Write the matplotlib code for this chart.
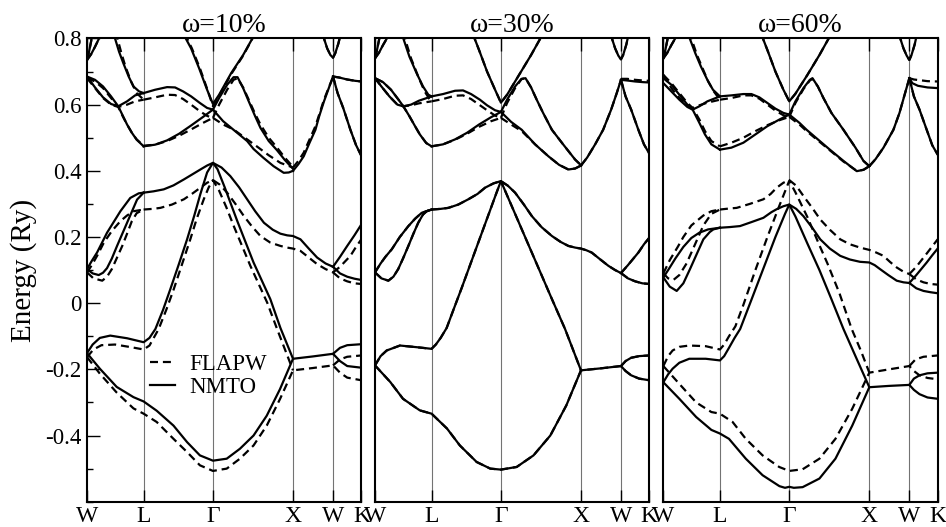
import matplotlib
matplotlib.use('Agg')
import matplotlib.pyplot as plt
from matplotlib.lines import Line2D
from matplotlib.ticker import MultipleLocator, FixedLocator

plt.rcParams['font.family'] = ['Liberation Serif', 'DejaVu Serif']

# high-symmetry points along the fcc path (path length, 2pi/a units)
kpos = [0.0, 0.707, 1.573, 2.573, 3.073, 3.427]
klabels = ['W', 'L', 'Γ', 'X', 'W', 'K']
titles = ['ω=10%', 'ω=30%', 'ω=60%']
yticks = [-0.4, -0.2, 0.0, 0.2, 0.4, 0.6, 0.8]
ylabels = ['-0.4', '-0.2', '0', '0.2', '0.4', '0.6', '0.8']

# ---------------- omega = 10% ----------------
# bands where NMTO and FLAPW lie on top of each other
both_10 = [
    [(0, 0.735), (0.05, 0.752), (0.1, 0.775), (0.15, 0.8), (0.18, 0.82)],
    [(0, 0.735), (0.025, 0.76), (0.05, 0.79), (0.07, 0.82)],
    [(2.94, 0.815), (3.0, 0.77), (3.04, 0.75), (3.073, 0.742), (3.1, 0.755), (3.14, 0.785), (3.17, 0.815)],
    [(3.073, 0.685), (3.15, 0.682), (3.25, 0.676), (3.35, 0.672), (3.427, 0.67)],
    [(3.073, 0.685), (3.13, 0.635), (3.2, 0.59), (3.29, 0.524), (3.36, 0.478), (3.427, 0.445)],
]
nmto_10 = [
    [(0.33, 0.82), (0.35, 0.8), (0.4, 0.76), (0.454, 0.725), (0.52, 0.685), (0.58, 0.655), (0.65, 0.64), (0.707, 0.635)],
    [(0, 0.685), (0.1, 0.675), (0.2, 0.655), (0.3, 0.625), (0.39, 0.595), (0.45, 0.565), (0.5, 0.54), (0.56, 0.515), (0.62, 0.494), (0.707, 0.474)],
    [(0, 0.685), (0.1, 0.652), (0.2, 0.622), (0.3, 0.602), (0.39, 0.595), (0.5, 0.61), (0.6, 0.628), (0.707, 0.635)],
    [(0.707, 0.635), (0.85, 0.645), (1.0, 0.653), (1.1, 0.652), (1.2, 0.64), (1.3, 0.625), (1.41, 0.605), (1.5, 0.59), (1.573, 0.585)],
    [(0.707, 0.474), (0.85, 0.479), (1.0, 0.492), (1.15, 0.512), (1.3, 0.537), (1.45, 0.563), (1.573, 0.585)],
    [(1.2, 0.815), (1.3, 0.77), (1.4, 0.71), (1.5, 0.645), (1.573, 0.602), (1.65, 0.63), (1.8, 0.695), (1.95, 0.75), (2.1, 0.815)],
    [(1.573, 0.585), (1.65, 0.62), (1.75, 0.66), (1.83, 0.683), (1.88, 0.683), (1.95, 0.65), (2.02, 0.61), (2.1, 0.565),
     (2.166, 0.53), (2.27, 0.49), (2.374, 0.462), (2.47, 0.433), (2.573, 0.406)],
    [(1.573, 0.585), (1.7, 0.55), (1.83, 0.524), (2.0, 0.49), (2.08, 0.466), (2.2, 0.44), (2.33, 0.414), (2.457, 0.394), (2.52, 0.395), (2.573, 0.40)],
    [(2.573, 0.40), (2.64, 0.42), (2.707, 0.444), (2.78, 0.485), (2.853, 0.524), (2.9, 0.565), (2.96, 0.61), (3.02, 0.65), (3.073, 0.685)],
    [(0, -0.151), (0.16, -0.198), (0.37, -0.253), (0.58, -0.284), (0.707, -0.297), (0.87, -0.325), (1.08, -0.37), (1.25, -0.42),
     (1.41, -0.46), (1.573, -0.476), (1.745, -0.47), (1.91, -0.44), (2.08, -0.40), (2.245, -0.34), (2.41, -0.26), (2.573, -0.168),
     (2.82, -0.161), (3.073, -0.153), (3.16, -0.175), (3.25, -0.19), (3.427, -0.195)],
    [(3.073, -0.153), (3.16, -0.135), (3.25, -0.127), (3.427, -0.124)],
    [(0, -0.151), (0.07, -0.125), (0.16, -0.105), (0.29, -0.098), (0.5, -0.106), (0.707, -0.118), (0.78, -0.105), (0.854, -0.078),
     (0.95, -0.02), (1.04, 0.042), (1.15, 0.12), (1.25, 0.193), (1.34, 0.265), (1.416, 0.33), (1.5, 0.395), (1.573, 0.424),
     (1.63, 0.405), (1.72, 0.35), (1.874, 0.25), (2.08, 0.123), (2.29, 0.012), (2.416, -0.075), (2.573, -0.168)],
    [(0, 0.103), (0.06, 0.128), (0.125, 0.153), (0.25, 0.213), (0.417, 0.278), (0.54, 0.318), (0.646, 0.332), (0.707, 0.334)],
    [(0, 0.103), (0.07, 0.09), (0.146, 0.085), (0.2, 0.092), (0.25, 0.106), (0.31, 0.135), (0.375, 0.173), (0.5, 0.243), (0.625, 0.313), (0.707, 0.334)],
    [(0.707, 0.334), (0.83, 0.338), (0.958, 0.344), (1.08, 0.356), (1.21, 0.374), (1.32, 0.39), (1.416, 0.404), (1.5, 0.416), (1.573, 0.424),
     (1.68, 0.41), (1.79, 0.384), (1.9, 0.35), (2.0, 0.314), (2.1, 0.278), (2.21, 0.243), (2.32, 0.222), (2.416, 0.21), (2.5, 0.205),
     (2.573, 0.203), (2.666, 0.193), (2.77, 0.165), (2.874, 0.138), (2.98, 0.12), (3.073, 0.11)],
    [(3.073, 0.11), (3.16, 0.14), (3.25, 0.173), (3.34, 0.205), (3.427, 0.238)],
    [(3.073, 0.11), (3.16, 0.09), (3.25, 0.08), (3.34, 0.074), (3.427, 0.07)],
]
flapw_10 = [
    [(0.36, 0.82), (0.38, 0.8), (0.43, 0.755), (0.48, 0.715), (0.55, 0.67), (0.62, 0.635), (0.707, 0.615)],
    [(0, 0.68), (0.1, 0.67), (0.2, 0.65), (0.3, 0.62), (0.39, 0.593), (0.45, 0.563), (0.5, 0.54), (0.56, 0.515), (0.62, 0.495), (0.707, 0.476)],
    [(0, 0.68), (0.1, 0.65), (0.2, 0.62), (0.3, 0.6), (0.39, 0.593), (0.5, 0.6), (0.6, 0.61), (0.707, 0.615)],
    [(0.707, 0.615), (0.85, 0.622), (1.0, 0.63), (1.1, 0.629), (1.2, 0.617), (1.3, 0.6), (1.41, 0.58), (1.5, 0.566), (1.573, 0.56)],
    [(0.707, 0.476), (0.85, 0.479), (1.0, 0.49), (1.15, 0.506), (1.3, 0.525), (1.45, 0.545), (1.573, 0.56)],
    [(1.22, 0.815), (1.31, 0.77), (1.41, 0.71), (1.5, 0.648), (1.573, 0.595), (1.65, 0.627), (1.8, 0.692), (1.95, 0.748), (2.1, 0.815)],
    [(1.573, 0.56), (1.65, 0.6), (1.75, 0.645), (1.83, 0.675), (1.88, 0.68), (1.95, 0.652), (2.02, 0.615), (2.1, 0.572),
     (2.166, 0.54), (2.27, 0.5), (2.374, 0.47), (2.47, 0.44), (2.573, 0.412)],
    [(1.573, 0.56), (1.7, 0.54), (1.83, 0.525), (2.0, 0.495), (2.12, 0.474), (2.27, 0.447), (2.416, 0.424), (2.573, 0.41)],
    [(2.573, 0.41), (2.64, 0.43), (2.707, 0.455), (2.78, 0.495), (2.853, 0.535), (2.9, 0.57), (2.96, 0.615), (3.02, 0.652), (3.073, 0.683)],
    [(0, -0.163), (0.16, -0.213), (0.37, -0.27), (0.58, -0.318), (0.707, -0.334), (0.87, -0.359), (1.08, -0.41), (1.25, -0.45),
     (1.41, -0.49), (1.573, -0.507), (1.745, -0.5), (1.91, -0.47), (2.08, -0.43), (2.245, -0.37), (2.41, -0.29), (2.573, -0.203),
     (2.82, -0.196), (3.073, -0.188), (3.16, -0.21), (3.25, -0.225), (3.427, -0.233)],
    [(3.073, -0.188), (3.16, -0.17), (3.25, -0.162), (3.427, -0.158)],
    [(0, -0.163), (0.08, -0.14), (0.18, -0.127), (0.35, -0.125), (0.55, -0.133), (0.707, -0.14), (0.78, -0.128), (0.895, -0.078),
     (0.99, -0.02), (1.083, 0.042), (1.19, 0.12), (1.29, 0.193), (1.37, 0.255), (1.458, 0.314), (1.52, 0.35), (1.573, 0.372),
     (1.65, 0.34), (1.74, 0.29), (1.833, 0.233), (2.04, 0.113), (2.25, 0.002), (2.374, -0.078), (2.573, -0.203)],
    [(0, 0.093), (0.06, 0.115), (0.13, 0.145), (0.21, 0.183), (0.31, 0.218), (0.417, 0.248), (0.5, 0.265), (0.583, 0.278), (0.707, 0.283)],
    [(0, 0.093), (0.08, 0.075), (0.19, 0.068), (0.25, 0.08), (0.31, 0.103), (0.375, 0.138), (0.44, 0.173), (0.5, 0.21), (0.56, 0.248), (0.62, 0.272), (0.707, 0.283)],
    [(0.707, 0.283), (0.82, 0.285), (0.916, 0.288), (1.06, 0.298), (1.21, 0.314), (1.32, 0.332), (1.416, 0.349), (1.5, 0.364), (1.573, 0.372),
     (1.66, 0.358), (1.75, 0.334), (1.86, 0.298), (1.96, 0.263), (2.06, 0.232), (2.166, 0.203), (2.29, 0.183), (2.416, 0.173), (2.5, 0.168),
     (2.573, 0.165), (2.666, 0.158), (2.77, 0.138), (2.874, 0.118), (2.98, 0.103), (3.073, 0.093)],
    [(3.073, 0.093), (3.16, 0.11), (3.29, 0.143), (3.36, 0.17), (3.427, 0.193)],
    [(3.073, 0.093), (3.16, 0.075), (3.25, 0.066), (3.34, 0.06), (3.427, 0.058)],
]

# ---------------- omega = 30% ----------------
both_30 = [
    [(0, 0.74), (0.05, 0.757), (0.1, 0.78), (0.16, 0.805), (0.19, 0.82)],
    [(0, 0.74), (0.025, 0.765), (0.05, 0.795), (0.07, 0.82)],
    [(0, 0.68), (0.1, 0.668), (0.2, 0.645), (0.3, 0.613), (0.354, 0.595), (0.43, 0.565), (0.5, 0.535), (0.56, 0.51), (0.64, 0.484), (0.707, 0.474)],
    [(1.22, 0.815), (1.3, 0.765), (1.4, 0.7), (1.5, 0.645), (1.573, 0.606), (1.65, 0.63), (1.8, 0.69), (1.95, 0.75), (2.1, 0.815)],
    [(2.573, 0.416), (2.65, 0.44), (2.75, 0.48), (2.85, 0.524), (2.95, 0.585), (3.02, 0.635), (3.073, 0.675)],
    [(2.94, 0.815), (3.0, 0.77), (3.04, 0.748), (3.073, 0.737), (3.1, 0.75), (3.14, 0.782), (3.17, 0.815)],
    [(3.073, 0.675), (3.13, 0.625), (3.2, 0.585), (3.29, 0.524), (3.36, 0.48), (3.427, 0.452)],
    [(0, -0.188), (0.19, -0.238), (0.35, -0.289), (0.56, -0.324), (0.707, -0.334), (0.9, -0.379), (1.06, -0.43), (1.27, -0.48),
     (1.44, -0.5), (1.573, -0.503), (1.77, -0.495), (1.98, -0.46), (2.19, -0.4), (2.39, -0.309), (2.573, -0.203),
     (2.82, -0.197), (3.073, -0.19), (3.13, -0.205), (3.2, -0.218), (3.3, -0.228), (3.427, -0.233)],
    [(3.073, -0.19), (3.13, -0.175), (3.2, -0.165), (3.3, -0.16), (3.427, -0.158)],
    [(0, -0.188), (0.07, -0.16), (0.146, -0.143), (0.312, -0.128), (0.52, -0.133), (0.707, -0.138), (0.76, -0.125), (0.82, -0.105),
     (0.895, -0.075), (0.98, -0.02), (1.083, 0.046), (1.29, 0.183), (1.458, 0.294), (1.52, 0.335), (1.573, 0.369),
     (1.75, 0.27), (2.0, 0.13), (2.2, 0.018), (2.374, -0.078), (2.573, -0.203)],
    [(0, 0.093), (0.07, 0.12), (0.13, 0.14), (0.21, 0.163), (0.31, 0.2), (0.417, 0.233), (0.5, 0.255), (0.583, 0.273), (0.707, 0.283)],
    [(0, 0.093), (0.08, 0.075), (0.167, 0.068), (0.23, 0.08), (0.29, 0.103), (0.35, 0.135), (0.417, 0.173), (0.48, 0.21), (0.54, 0.243),
     (0.6, 0.268), (0.646, 0.278), (0.707, 0.283)],
    [(0.707, 0.283), (0.82, 0.285), (0.916, 0.288), (1.04, 0.298), (1.166, 0.314), (1.28, 0.33), (1.375, 0.349), (1.48, 0.362), (1.573, 0.369),
     (1.66, 0.355), (1.75, 0.334), (1.86, 0.298), (1.96, 0.263), (2.08, 0.23), (2.21, 0.203), (2.32, 0.185), (2.416, 0.173), (2.5, 0.168),
     (2.573, 0.165), (2.64, 0.16), (2.707, 0.153), (2.81, 0.133), (2.915, 0.113), (3.0, 0.1), (3.073, 0.091)],
    [(3.073, 0.091), (3.16, 0.115), (3.29, 0.153), (3.36, 0.178), (3.427, 0.198)],
    [(3.073, 0.091), (3.16, 0.075), (3.25, 0.066), (3.34, 0.06), (3.427, 0.058)],
]
nmto_30 = [
    [(0.33, 0.82), (0.354, 0.8), (0.43, 0.745), (0.52, 0.695), (0.6, 0.655), (0.666, 0.63), (0.707, 0.625)],
    [(0, 0.68), (0.08, 0.655), (0.18, 0.625), (0.28, 0.6), (0.354, 0.595), (0.45, 0.6), (0.55, 0.612), (0.707, 0.625)],
    [(0.707, 0.625), (0.85, 0.632), (1.0, 0.642), (1.1, 0.643), (1.2, 0.632), (1.31, 0.615), (1.4, 0.598), (1.5, 0.583), (1.573, 0.578)],
    [(0.707, 0.474), (0.85, 0.48), (1.0, 0.495), (1.15, 0.515), (1.3, 0.54), (1.45, 0.562), (1.573, 0.578)],
    [(1.573, 0.578), (1.65, 0.615), (1.75, 0.655), (1.83, 0.678), (1.88, 0.68), (1.95, 0.652), (2.02, 0.615), (2.1, 0.575),
     (2.21, 0.524), (2.35, 0.48), (2.5, 0.434), (2.573, 0.417)],
    [(1.573, 0.578), (1.7, 0.548), (1.833, 0.524), (2.0, 0.48), (2.166, 0.444), (2.3, 0.418), (2.416, 0.404), (2.5, 0.407), (2.573, 0.416)],
    [(3.073, 0.675), (3.15, 0.673), (3.25, 0.67), (3.35, 0.668), (3.427, 0.667)],
]
flapw_30 = [
    [(0.35, 0.82), (0.374, 0.8), (0.45, 0.74), (0.54, 0.685), (0.62, 0.64), (0.68, 0.617), (0.707, 0.61)],
    [(0, 0.68), (0.08, 0.655), (0.18, 0.625), (0.28, 0.6), (0.354, 0.595), (0.45, 0.598), (0.55, 0.604), (0.707, 0.61)],
    [(0.707, 0.61), (0.85, 0.617), (1.0, 0.627), (1.1, 0.628), (1.2, 0.617), (1.3, 0.6), (1.4, 0.583), (1.5, 0.567), (1.573, 0.56)],
    [(0.707, 0.474), (0.85, 0.48), (1.0, 0.494), (1.15, 0.512), (1.3, 0.533), (1.45, 0.55), (1.573, 0.56)],
    [(1.573, 0.56), (1.65, 0.605), (1.75, 0.65), (1.83, 0.677), (1.88, 0.68), (1.95, 0.652), (2.02, 0.615), (2.1, 0.575),
     (2.21, 0.524), (2.35, 0.48), (2.5, 0.434), (2.573, 0.417)],
    [(1.573, 0.56), (1.7, 0.54), (1.833, 0.52), (2.0, 0.48), (2.166, 0.444), (2.3, 0.418), (2.416, 0.404), (2.5, 0.407), (2.573, 0.416)],
    [(3.073, 0.678), (3.15, 0.678), (3.25, 0.675), (3.35, 0.673), (3.427, 0.672)],
]

# ---------------- omega = 60% ----------------
both_60 = [
    [(0, 0.74), (0.05, 0.757), (0.1, 0.78), (0.16, 0.805), (0.19, 0.82)],
    [(0, 0.74), (0.025, 0.765), (0.05, 0.795), (0.07, 0.82)],
    [(1.22, 0.815), (1.3, 0.765), (1.4, 0.7), (1.5, 0.645), (1.573, 0.61), (1.65, 0.633), (1.8, 0.69), (1.95, 0.75), (2.1, 0.815)],
    [(2.573, 0.414), (2.65, 0.435), (2.75, 0.47), (2.874, 0.524), (2.95, 0.575), (3.02, 0.635), (3.073, 0.68)],
    [(2.94, 0.815), (3.0, 0.77), (3.04, 0.748), (3.073, 0.735), (3.1, 0.75), (3.14, 0.782), (3.17, 0.815)],
    [(3.073, 0.68), (3.13, 0.625), (3.2, 0.585), (3.29, 0.524), (3.36, 0.477), (3.427, 0.449)],
]
nmto_60 = [
    [(0.3, 0.82), (0.33, 0.8), (0.4, 0.755), (0.47, 0.715), (0.55, 0.675), (0.62, 0.645), (0.707, 0.625)],
    [(0, 0.68), (0.1, 0.66), (0.2, 0.63), (0.3, 0.6), (0.366, 0.585), (0.45, 0.545), (0.52, 0.51), (0.6, 0.48), (0.707, 0.464)],
    [(0, 0.665), (0.1, 0.64), (0.2, 0.615), (0.3, 0.593), (0.366, 0.585), (0.45, 0.595), (0.55, 0.61), (0.707, 0.625)],
    [(0.707, 0.625), (0.85, 0.628), (1.0, 0.632), (1.1, 0.632), (1.2, 0.622), (1.3, 0.605), (1.4, 0.588), (1.5, 0.575), (1.573, 0.57)],
    [(0.707, 0.464), (0.85, 0.47), (1.0, 0.485), (1.15, 0.51), (1.3, 0.535), (1.45, 0.555), (1.573, 0.57)],
    [(1.573, 0.57), (1.65, 0.61), (1.75, 0.65), (1.83, 0.675), (1.863, 0.68), (1.93, 0.655), (2.0, 0.62), (2.1, 0.575),
     (2.25, 0.524), (2.4, 0.47), (2.5, 0.43), (2.573, 0.414)],
    [(1.573, 0.57), (1.7, 0.545), (1.79, 0.524), (2.08, 0.464), (2.25, 0.43), (2.416, 0.399), (2.5, 0.403), (2.573, 0.414)],
    [(3.073, 0.68), (3.11, 0.665), (3.18, 0.657), (3.3, 0.652), (3.427, 0.65)],
    [(0, -0.239), (0.2, -0.289), (0.41, -0.344), (0.6, -0.383), (0.707, -0.394), (0.82, -0.41), (1.03, -0.47), (1.24, -0.52),
     (1.45, -0.553), (1.52, -0.558), (1.573, -0.555), (1.63, -0.558), (1.74, -0.556), (1.95, -0.53), (2.15, -0.47), (2.36, -0.37),
     (2.573, -0.254), (2.82, -0.25), (3.073, -0.247), (3.13, -0.262), (3.2, -0.275), (3.3, -0.285), (3.427, -0.289)],
    [(3.073, -0.247), (3.13, -0.228), (3.2, -0.218), (3.3, -0.212), (3.427, -0.21)],
    [(0, -0.239), (0.06, -0.215), (0.116, -0.198), (0.2, -0.18), (0.324, -0.168), (0.53, -0.168), (0.707, -0.173), (0.76, -0.16),
     (0.82, -0.135), (0.89, -0.105), (0.96, -0.078), (1.1, 0.01), (1.25, 0.105), (1.4, 0.2), (1.52, 0.27), (1.573, 0.298),
     (1.65, 0.262), (1.8, 0.18), (1.95, 0.1), (2.1, 0.012), (2.25, -0.078), (2.4, -0.16), (2.573, -0.254)],
    [(0, 0.078), (0.08, 0.05), (0.167, 0.037), (0.25, 0.06), (0.333, 0.103), (0.42, 0.15), (0.5, 0.193), (0.58, 0.215), (0.625, 0.223), (0.707, 0.228)],
    [(0, 0.078), (0.06, 0.1), (0.15, 0.135), (0.25, 0.17), (0.35, 0.197), (0.45, 0.213), (0.56, 0.223), (0.707, 0.228)],
    [(0.707, 0.228), (0.83, 0.23), (0.958, 0.233), (1.1, 0.245), (1.25, 0.258), (1.35, 0.275), (1.416, 0.284), (1.5, 0.293), (1.573, 0.298),
     (1.66, 0.285), (1.75, 0.263), (1.86, 0.228), (1.96, 0.193), (2.08, 0.165), (2.21, 0.143), (2.33, 0.132), (2.457, 0.125), (2.573, 0.123),
     (2.64, 0.115), (2.707, 0.103), (2.81, 0.085), (2.915, 0.068), (3.0, 0.063), (3.073, 0.061)],
    [(3.073, 0.061), (3.16, 0.085), (3.29, 0.123), (3.36, 0.145), (3.427, 0.165)],
    [(3.073, 0.061), (3.16, 0.045), (3.25, 0.037), (3.34, 0.033), (3.427, 0.03)],
]
flapw_60 = [
    [(0.32, 0.82), (0.35, 0.8), (0.42, 0.75), (0.49, 0.71), (0.56, 0.67), (0.63, 0.64), (0.707, 0.615)],
    [(0, 0.69), (0.1, 0.665), (0.2, 0.635), (0.3, 0.605), (0.366, 0.59), (0.45, 0.555), (0.52, 0.52), (0.6, 0.49), (0.707, 0.474)],
    [(0, 0.69), (0.1, 0.65), (0.2, 0.62), (0.3, 0.598), (0.366, 0.59), (0.45, 0.598), (0.55, 0.606), (0.707, 0.615)],
    [(0.707, 0.615), (0.85, 0.62), (1.0, 0.628), (1.1, 0.628), (1.2, 0.618), (1.3, 0.6), (1.4, 0.582), (1.5, 0.568), (1.573, 0.563)],
    [(0.707, 0.474), (0.85, 0.485), (1.0, 0.5), (1.15, 0.52), (1.3, 0.538), (1.45, 0.553), (1.573, 0.563)],
    [(1.573, 0.563), (1.65, 0.605), (1.75, 0.647), (1.83, 0.673), (1.863, 0.678), (1.93, 0.655), (2.0, 0.62), (2.1, 0.575),
     (2.25, 0.524), (2.4, 0.47), (2.5, 0.43), (2.573, 0.414)],
    [(1.573, 0.563), (1.7, 0.54), (1.79, 0.52), (2.08, 0.462), (2.25, 0.428), (2.416, 0.4), (2.5, 0.403), (2.573, 0.414)],
    [(3.073, 0.68), (3.13, 0.676), (3.2, 0.674), (3.3, 0.671), (3.427, 0.67)],
    [(0, -0.19), (0.2, -0.244), (0.41, -0.3), (0.6, -0.329), (0.707, -0.334), (0.865, -0.359), (1.03, -0.41), (1.24, -0.46),
     (1.447, -0.495), (1.573, -0.507), (1.74, -0.502), (1.95, -0.47), (2.15, -0.41), (2.36, -0.319), (2.573, -0.21),
     (2.82, -0.2), (3.073, -0.19), (3.13, -0.205), (3.2, -0.218), (3.3, -0.226), (3.427, -0.23)],
    [(3.073, -0.19), (3.15, -0.17), (3.25, -0.162), (3.427, -0.158)],
    [(0, -0.19), (0.06, -0.16), (0.116, -0.143), (0.2, -0.132), (0.324, -0.128), (0.53, -0.13), (0.707, -0.14), (0.76, -0.125),
     (0.82, -0.1), (0.9, -0.07), (1.0, -0.005), (1.15, 0.1), (1.3, 0.2), (1.45, 0.295), (1.573, 0.37),
     (1.65, 0.335), (1.8, 0.26), (1.95, 0.175), (2.05, 0.12), (2.2, 0.03), (2.353, -0.078), (2.47, -0.145), (2.573, -0.21)],
    [(0, 0.09), (0.06, 0.075), (0.125, 0.07), (0.2, 0.085), (0.29, 0.12), (0.4, 0.18), (0.5, 0.235), (0.6, 0.27), (0.707, 0.283)],
    [(0, 0.09), (0.08, 0.13), (0.18, 0.17), (0.25, 0.2), (0.35, 0.235), (0.5, 0.265), (0.6, 0.278), (0.707, 0.283)],
    [(0.707, 0.283), (0.82, 0.286), (0.916, 0.288), (1.08, 0.3), (1.25, 0.314), (1.34, 0.33), (1.416, 0.349), (1.5, 0.364), (1.573, 0.372),
     (1.66, 0.355), (1.75, 0.324), (1.86, 0.288), (1.96, 0.253), (2.08, 0.222), (2.21, 0.193), (2.33, 0.178), (2.457, 0.168), (2.573, 0.161),
     (2.66, 0.153), (2.75, 0.143), (2.83, 0.125), (2.915, 0.108), (3.0, 0.095), (3.073, 0.088)],
    [(3.073, 0.088), (3.16, 0.11), (3.29, 0.15), (3.36, 0.172), (3.427, 0.193)],
    [(3.073, 0.088), (3.16, 0.072), (3.25, 0.063), (3.34, 0.058), (3.427, 0.056)],
]

panels = [(nmto_10, flapw_10, both_10), (nmto_30, flapw_30, both_30), (nmto_60, flapw_60, both_60)]
lefts = [0.092, 0.3964, 0.7012]

DASH = (0, (3.6, 2.2))
LW = 1.6

fig = plt.figure(figsize=(9.46, 5.27), dpi=100)

for i, (solid, dashed, both) in enumerate(panels):
    ax = fig.add_axes([lefts[i], 0.048, 0.29, 0.879])
    for x in kpos[1:-1]:
        ax.axvline(x, color='0.45', lw=0.8, zorder=1)
    for c in dashed + both:
        k, e = zip(*c)
        ax.plot(k, e, color='black', lw=LW, ls=DASH, zorder=2)
    for c in solid + both:
        k, e = zip(*c)
        ax.plot(k, e, color='black', lw=LW, ls='-', zorder=3)

    ax.set_xlim(kpos[0], kpos[-1])
    ax.set_ylim(-0.6, 0.8)
    ax.set_xticks(kpos)
    ax.set_xticklabels(klabels, fontsize=17)
    ax.tick_params(axis='x', direction='in', length=9, width=1, top=True, pad=3)
    for s in ax.spines.values():
        s.set_linewidth(1.5)
    ax.set_title(titles[i], fontsize=20, pad=5)

    if i == 0:
        ax.yaxis.set_major_locator(FixedLocator(yticks))
        ax.set_yticklabels(ylabels, fontsize=16.5)
        ax.yaxis.set_minor_locator(MultipleLocator(0.1))
        ax.tick_params(axis='y', which='major', direction='in', length=9, width=1, pad=4)
        ax.tick_params(axis='y', which='minor', direction='in', length=4.5, width=1)
        ax.set_ylabel('Energy (Ry)', fontsize=21, labelpad=6)
        handles = [Line2D([], [], color='black', lw=LW, ls=DASH),
                   Line2D([], [], color='black', lw=LW, ls='-')]
        ax.legend(handles, ['FLAPW', 'NMTO'], loc='center left', bbox_to_anchor=(0.23, 0.272),
                  frameon=False, fontsize=16.5, handlelength=1.1, handletextpad=0.6,
                  labelspacing=0.1, borderaxespad=0, borderpad=0)
    else:
        ax.set_yticks([])

fig.savefig('out.png', dpi=100)
